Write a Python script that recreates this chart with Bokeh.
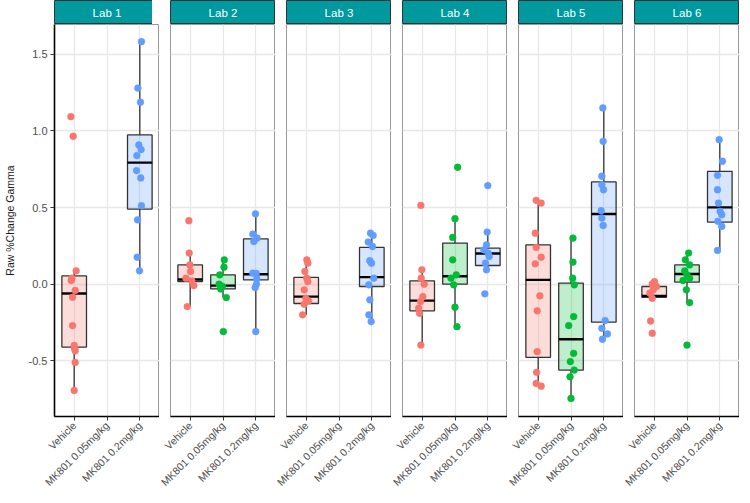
import numpy as np
from bokeh.plotting import figure
from bokeh.layouts import row, column
from bokeh.models import Range1d, FixedTicker, Label, PrintfTickFormatter
from bokeh.embed import file_html
from bokeh.resources import INLINE

# ---------------- data ----------------
labs = ["Lab 1", "Lab 2", "Lab 3", "Lab 4", "Lab 5", "Lab 6"]
groups = ["Vehicle", "MK801 0.05mg/kg", "MK801 0.2mg/kg"]
group_colors = ["#F8766D", "#00BA38", "#619CFF"]
y_ticks = [-0.5, 0.0, 0.5, 1.0, 1.5]
y_label = "Raw %Change Gamma"

# points per lab/group (values) and horizontal jitter (category units)
L1_veh = [1.093, 0.965, 0.087, 0.039, 0.024, -0.041, -0.085, -0.27, -0.40, -0.418, -0.434, -0.51, -0.693]
L1_veh_dx = [-0.10, -0.03, 0.06, -0.07, -0.09, 0.03, -0.05, -0.05, 0.0, 0.01, 0.03, 0.03, 0.0]
L1_hi = [1.582, 1.279, 1.187, 0.908, 0.878, 0.839, 0.741, 0.693, 0.512, 0.42, 0.176, 0.087]
L1_hi_dx = [0.05, -0.06, 0.02, -0.03, 0.04, -0.09, -0.10, 0.03, 0.05, -0.07, -0.08, -0.01]

L2_veh = [0.414, 0.203, 0.126, 0.083, 0.039, 0.022, -0.009, -0.146]
L2_veh_dx = [-0.04, -0.03, -0.01, 0.01, -0.13, 0.05, 0.11, -0.09]
L2_mid = [0.159, 0.111, 0.061, 0.0, -0.015, -0.031, -0.087, -0.309]
L2_mid_dx = [0.04, 0.03, -0.10, -0.12, -0.02, -0.07, 0.10, 0.01]
L2_hi = [0.459, 0.327, 0.301, 0.279, 0.072, 0.07, 0.035, 0.0, -0.022, -0.309]
L2_hi_dx = [-0.01, -0.09, 0.04, -0.06, -0.09, 0.01, 0.03, 0.02, -0.02, 0.0]

L3_veh = [0.159, 0.137, 0.083, 0.039, 0.017, -0.037, -0.092, -0.109, -0.131, -0.2]
L3_veh_dx = [0.02, 0.05, -0.04, 0.02, 0.05, -0.06, -0.01, 0.07, -0.06, -0.11]
L3_hi = [0.333, 0.318, 0.275, 0.246, 0.153, 0.137, 0.039, -0.004, -0.102, -0.2, -0.244]
L3_hi_dx = [-0.04, 0.04, -0.11, 0.02, -0.06, -0.01, 0.06, -0.09, -0.06, -0.09, -0.02]

L4_veh = [0.514, 0.094, 0.039, 0.0, -0.081, -0.113, -0.157, -0.19, -0.397]
L4_veh_dx = [-0.04, -0.01, -0.03, 0.06, 0.02, -0.05, -0.11, -0.08, -0.04]
L4_mid = [0.763, 0.427, 0.305, 0.159, 0.061, 0.039, -0.004, -0.15, -0.277]
L4_mid_dx = [0.08, 0.0, -0.07, -0.07, 0.04, -0.12, -0.04, 0.0, 0.06]
L4_hi = [0.643, 0.34, 0.257, 0.224, 0.203, 0.181, 0.137, 0.094, -0.063]
L4_hi_dx = [0.0, -0.02, -0.04, -0.12, 0.01, 0.04, -0.07, -0.04, -0.09]

L5_veh = [0.547, 0.529, 0.333, 0.24, 0.176, 0.133, -0.076, -0.174, -0.44, -0.575, -0.647, -0.665]
L5_veh_dx = [-0.06, 0.09, -0.09, -0.06, 0.09, -0.09, 0.05, -0.03, -0.03, -0.05, -0.06, 0.09]
L5_mid = [0.301, 0.144, 0.039, -0.004, -0.211, -0.27, -0.451, -0.505, -0.56, -0.604, -0.745]
L5_mid_dx = [0.06, 0.06, 0.05, 0.10, 0.08, -0.07, 0.08, -0.02, 0.10, -0.03, 0.0]
L5_hi = [1.15, 0.932, 0.704, 0.649, 0.616, 0.479, 0.431, 0.383, -0.237, -0.288, -0.325, -0.359]
L5_hi_dx = [-0.03, -0.02, -0.06, -0.06, -0.01, -0.08, -0.06, -0.02, 0.04, -0.06, 0.11, -0.04]

L6_veh = [0.017, 0.002, -0.015, -0.037, -0.059, -0.092, -0.24, -0.32]
L6_veh_dx = [0.01, -0.06, 0.07, -0.03, -0.13, -0.06, -0.11, -0.06]
L6_mid = [0.203, 0.159, 0.126, 0.087, 0.061, 0.039, 0.024, -0.037, -0.12, -0.397]
L6_mid_dx = [0.05, -0.05, 0.08, -0.07, 0.0, 0.08, -0.12, -0.02, 0.08, 0.0]
L6_hi = [0.943, 0.802, 0.71, 0.616, 0.529, 0.475, 0.453, 0.41, 0.377, 0.22]
L6_hi_dx = [-0.02, 0.08, -0.07, -0.07, -0.04, 0.01, 0.06, -0.06, 0.06, -0.07]

# box statistics per lab: (lower whisker, Q1, median, Q3, upper whisker), None = no data
L1_box = [(-0.693, -0.41, -0.061, 0.054, 0.087), None, (0.087, 0.49, 0.793, 0.974, 1.582)]
L2_box = [(-0.146, 0.017, 0.031, 0.126, 0.203), (-0.087, -0.031, -0.009, 0.061, 0.159), (-0.309, 0.028, 0.065, 0.296, 0.459)]
L3_box = [(-0.2, -0.126, -0.081, 0.044, 0.159), None, (-0.244, -0.015, 0.046, 0.24, 0.333)]
L4_box = [(-0.397, -0.174, -0.107, 0.022, 0.094), (-0.277, 0.0, 0.052, 0.268, 0.427), (0.094, 0.122, 0.2, 0.235, 0.34)]
L5_box = [(-0.665, -0.477, 0.028, 0.257, 0.547), (-0.745, -0.56, -0.359, 0.007, 0.301), (-0.359, -0.248, 0.458, 0.667, 1.15)]
L6_box = [(-0.092, -0.085, -0.076, -0.015, 0.017), (-0.12, 0.013, 0.067, 0.126, 0.203), (0.22, 0.405, 0.501, 0.736, 0.943)]

lab_points = [
    [(L1_veh, L1_veh_dx), None, (L1_hi, L1_hi_dx)],
    [(L2_veh, L2_veh_dx), (L2_mid, L2_mid_dx), (L2_hi, L2_hi_dx)],
    [(L3_veh, L3_veh_dx), None, (L3_hi, L3_hi_dx)],
    [(L4_veh, L4_veh_dx), (L4_mid, L4_mid_dx), (L4_hi, L4_hi_dx)],
    [(L5_veh, L5_veh_dx), (L5_mid, L5_mid_dx), (L5_hi, L5_hi_dx)],
    [(L6_veh, L6_veh_dx), (L6_mid, L6_mid_dx), (L6_hi, L6_hi_dx)],
]
lab_boxes = [L1_box, L2_box, L3_box, L4_box, L5_box, L6_box]

# ---------------- style ----------------
FONT = "Liberation Sans"
STRIP = "#00999E"
FRAME_W, FRAME_H, STRIP_H = 105, 392, 24
BOX_W = 0.75

cols = []
for i, lab in enumerate(labs):
    left = 47 if i == 0 else 11

    s = figure(frame_width=FRAME_W, frame_height=STRIP_H, x_range=Range1d(0, 1), y_range=Range1d(0, 1),
               toolbar_location=None, output_backend="svg", x_axis_location=None, y_axis_location=None,
               min_border_left=left, min_border_right=0, min_border_top=0, min_border_bottom=0,
               background_fill_color=STRIP, border_fill_color="white",
               outline_line_color="#333333", outline_line_width=1)
    s.grid.visible = False
    s.add_layout(Label(x=0.5, y=0.5, text=lab, text_align="center", text_baseline="middle",
                       text_color="white", text_font=FONT, text_font_size="11.5px"))

    p = figure(frame_width=FRAME_W, frame_height=FRAME_H, x_range=Range1d(0.4, 3.6), y_range=Range1d(-0.863, 1.694),
               toolbar_location=None, output_backend="svg",
               y_axis_location="left" if i == 0 else None,
               min_border_left=left, min_border_right=0, min_border_top=0, min_border_bottom=0,
               background_fill_color="white", border_fill_color="white",
               outline_line_color="#9a9a9a", outline_line_width=1)
    p.xgrid.ticker = FixedTicker(ticks=[1, 2, 3])
    p.ygrid.ticker = FixedTicker(ticks=y_ticks)
    p.grid.grid_line_color = "#E8E8E8"
    p.grid.grid_line_width = 1.3

    xa = p.xaxis[0]
    xa.ticker = FixedTicker(ticks=[1, 2, 3])
    xa.major_label_overrides = {k + 1: g for k, g in enumerate(groups)}
    xa.major_label_orientation = np.pi / 4
    xa.major_label_text_font = FONT
    xa.major_label_text_font_size = "10.5px"
    xa.major_label_text_color = "#4D4D4D"
    xa.major_label_standoff = 3
    xa.axis_line_color = "black"
    xa.axis_line_width = 1.6
    xa.major_tick_line_color = "#333333"
    xa.major_tick_in = 0
    xa.major_tick_out = 4
    xa.minor_tick_line_color = None

    if i == 0:
        ya = p.yaxis[0]
        ya.ticker = FixedTicker(ticks=y_ticks)
        ya.formatter = PrintfTickFormatter(format="%.1f")
        ya.major_label_text_font = FONT
        ya.major_label_text_font_size = "11px"
        ya.major_label_text_color = "#4D4D4D"
        ya.major_label_standoff = 3
        ya.axis_line_color = "black"
        ya.axis_line_width = 1.6
        ya.major_tick_line_color = "#333333"
        ya.major_tick_in = 0
        ya.major_tick_out = 4
        ya.minor_tick_line_color = None
        ya.axis_label = y_label
        ya.axis_label_text_font = FONT
        ya.axis_label_text_font_size = "10.5px"
        ya.axis_label_text_font_style = "normal"
        ya.axis_label_text_color = "#1a1a1a"
        ya.axis_label_standoff = 10

    for k, (box, pts) in enumerate(zip(lab_boxes[i], lab_points[i])):
        xc = k + 1
        col = group_colors[k]
        if box is not None:
            lo, q1, med, q3, hi = box
            p.segment(x0=[xc, xc], y0=[q3, lo], x1=[xc, xc], y1=[hi, q1], line_color="#333333", line_width=1.3)
            p.vbar(x=[xc], width=BOX_W, bottom=[q1], top=[q3], fill_color=col, fill_alpha=0.25,
                   line_color="#333333", line_width=1.3)
            p.segment(x0=[xc - BOX_W / 2], y0=[med], x1=[xc + BOX_W / 2], y1=[med],
                      line_color="black", line_width=2.4)
        if pts is not None:
            vals, dx = pts
            p.scatter(x=[xc + d for d in dx], y=vals, size=6.8, fill_color=col, line_color=col,
                      line_width=0.5)

    cols.append(column(s, p))

layout = row(*cols)
open("out.html", "w").write(file_html(layout, INLINE))
